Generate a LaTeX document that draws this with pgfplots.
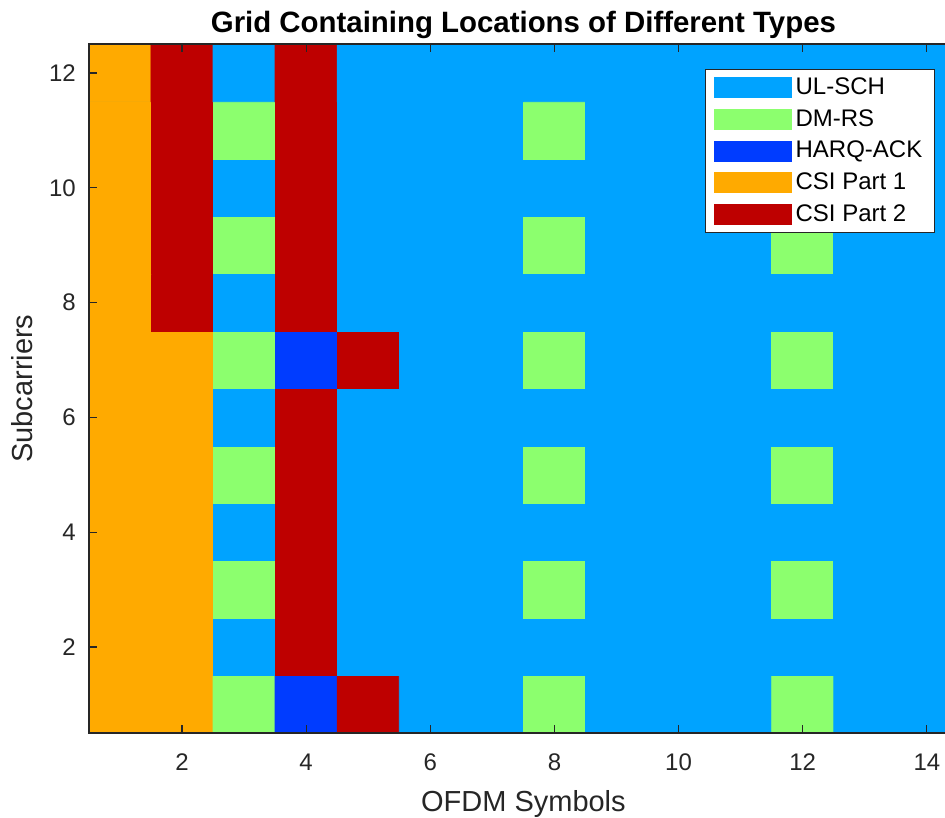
\documentclass[border=0pt]{standalone}
\usepackage{pgfplots}
\pgfplotsset{compat=1.18}
\usepackage{fontspec}
\setmainfont{Liberation Sans}
\definecolor{ulsch}{RGB}{0,163,255}
\definecolor{dmrs}{RGB}{140,255,110}
\definecolor{harq}{RGB}{0,60,255}
\definecolor{csione}{RGB}{255,170,0}
\definecolor{csitwo}{RGB}{190,0,0}
\definecolor{axgray}{RGB}{38,38,38}
\pgfplotsset{colormap={types}{rgb255=(0,163,255) rgb255=(140,255,110) rgb255=(0,60,255) rgb255=(255,170,0) rgb255=(190,0,0)}}
\begin{document}
\begin{tikzpicture}
\begin{axis}[
  at={(0,0)}, anchor=south west,
  scale only axis, width=434.5pt, height=344.35pt,
  xmin=0.5, xmax=14.5, ymin=0.5, ymax=12.5,
  enlargelimits=false, axis on top,
  axis background/.style={fill=ulsch},
  xtick={2,4,...,14}, ytick={2,4,...,12},
  /pgf/number format/assume math mode=true,
  tick label style={font=\fontsize{12}{14}\selectfont, color=axgray},
  xticklabel style={yshift=-7pt},
  yticklabel style={xshift=-3pt},
  major tick length=4pt,
  tick style={color=axgray, line width=0.6pt},
  axis line style={color=axgray, line width=0.8pt},
  xlabel={OFDM Symbols}, ylabel={Subcarriers},
  label style={font=\fontsize{14.5}{16}\selectfont, color=axgray},
  xlabel style={yshift=-3pt},
  ylabel style={yshift=1.5pt},
  title={Grid Containing Locations of Different Types},
  title style={font=\bfseries\fontsize{14.7}{16}\selectfont, yshift=-7pt},
  colormap name=types,
  legend cell align=left,
  legend image code/.code={\fill[#1, draw=none] (0pt,-5.25pt) rectangle (39pt,5.25pt);},
  legend style={at={(rel axis cs:0.9735,0.964)}, anchor=north east,
    draw=axgray, line width=0.6pt, fill=white,
    font=\fontsize{12}{14}\selectfont, row sep=2pt,
    inner xsep=4pt, inner ysep=2pt},
]
\addplot[matrix plot*, shader=flat corner, mesh/cols=14, point meta=explicit, colormap access=direct, forget plot]
  table[row sep=\\, meta=c] {
x y c\\
1 1 3\\ 2 1 3\\ 3 1 1\\ 4 1 2\\ 5 1 4\\ 6 1 0\\ 7 1 0\\ 8 1 1\\ 9 1 0\\ 10 1 0\\ 11 1 0\\ 12 1 1\\ 13 1 0\\ 14 1 0\\
1 2 3\\ 2 2 3\\ 3 2 0\\ 4 2 4\\ 5 2 0\\ 6 2 0\\ 7 2 0\\ 8 2 0\\ 9 2 0\\ 10 2 0\\ 11 2 0\\ 12 2 0\\ 13 2 0\\ 14 2 0\\
1 3 3\\ 2 3 3\\ 3 3 1\\ 4 3 4\\ 5 3 0\\ 6 3 0\\ 7 3 0\\ 8 3 1\\ 9 3 0\\ 10 3 0\\ 11 3 0\\ 12 3 1\\ 13 3 0\\ 14 3 0\\
1 4 3\\ 2 4 3\\ 3 4 0\\ 4 4 4\\ 5 4 0\\ 6 4 0\\ 7 4 0\\ 8 4 0\\ 9 4 0\\ 10 4 0\\ 11 4 0\\ 12 4 0\\ 13 4 0\\ 14 4 0\\
1 5 3\\ 2 5 3\\ 3 5 1\\ 4 5 4\\ 5 5 0\\ 6 5 0\\ 7 5 0\\ 8 5 1\\ 9 5 0\\ 10 5 0\\ 11 5 0\\ 12 5 1\\ 13 5 0\\ 14 5 0\\
1 6 3\\ 2 6 3\\ 3 6 0\\ 4 6 4\\ 5 6 0\\ 6 6 0\\ 7 6 0\\ 8 6 0\\ 9 6 0\\ 10 6 0\\ 11 6 0\\ 12 6 0\\ 13 6 0\\ 14 6 0\\
1 7 3\\ 2 7 3\\ 3 7 1\\ 4 7 2\\ 5 7 4\\ 6 7 0\\ 7 7 0\\ 8 7 1\\ 9 7 0\\ 10 7 0\\ 11 7 0\\ 12 7 1\\ 13 7 0\\ 14 7 0\\
1 8 3\\ 2 8 4\\ 3 8 0\\ 4 8 4\\ 5 8 0\\ 6 8 0\\ 7 8 0\\ 8 8 0\\ 9 8 0\\ 10 8 0\\ 11 8 0\\ 12 8 0\\ 13 8 0\\ 14 8 0\\
1 9 3\\ 2 9 4\\ 3 9 1\\ 4 9 4\\ 5 9 0\\ 6 9 0\\ 7 9 0\\ 8 9 1\\ 9 9 0\\ 10 9 0\\ 11 9 0\\ 12 9 1\\ 13 9 0\\ 14 9 0\\
1 10 3\\ 2 10 4\\ 3 10 0\\ 4 10 4\\ 5 10 0\\ 6 10 0\\ 7 10 0\\ 8 10 0\\ 9 10 0\\ 10 10 0\\ 11 10 0\\ 12 10 0\\ 13 10 0\\ 14 10 0\\
1 11 3\\ 2 11 4\\ 3 11 1\\ 4 11 4\\ 5 11 0\\ 6 11 0\\ 7 11 0\\ 8 11 1\\ 9 11 0\\ 10 11 0\\ 11 11 0\\ 12 11 1\\ 13 11 0\\ 14 11 0\\
1 12 3\\ 2 12 4\\ 3 12 0\\ 4 12 4\\ 5 12 0\\ 6 12 0\\ 7 12 0\\ 8 12 0\\ 9 12 0\\ 10 12 0\\ 11 12 0\\ 12 12 0\\ 13 12 0\\ 14 12 0\\
};
\addlegendimage{fill=ulsch}\addlegendentry{UL-SCH}
\addlegendimage{fill=dmrs}\addlegendentry{DM-RS}
\addlegendimage{fill=harq}\addlegendentry{HARQ-ACK}
\addlegendimage{fill=csione}\addlegendentry{CSI Part 1}
\addlegendimage{fill=csitwo}\addlegendentry{CSI Part 2}
\end{axis}
\pgfresetboundingbox
\path[use as bounding box] (-44.45pt,-42pt) rectangle (428.05pt,366.5pt);
\end{tikzpicture}
\end{document}
